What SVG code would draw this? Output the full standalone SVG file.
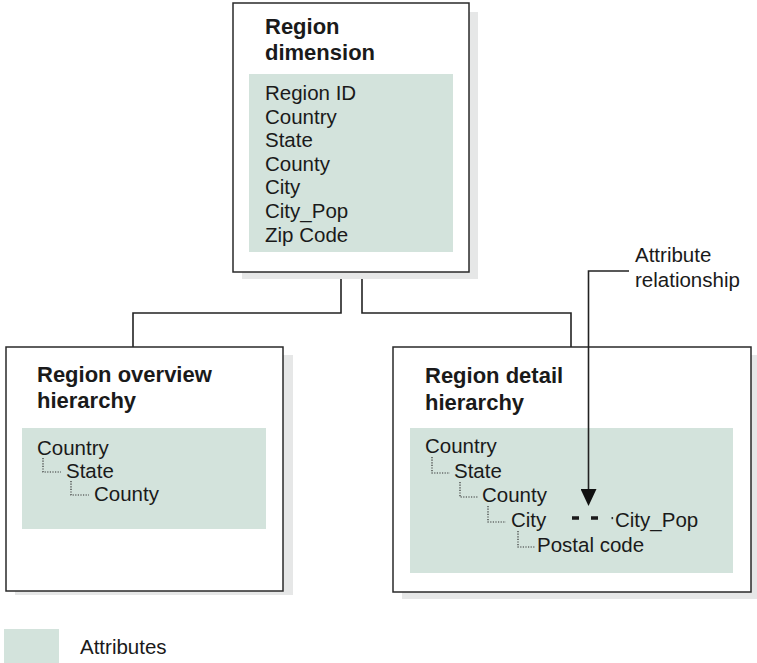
<svg xmlns="http://www.w3.org/2000/svg" width="757" height="663" viewBox="0 0 757 663">
  <defs>
    <style>
      .shadow { fill: #e6e7e7; }
      .box { fill: #ffffff; stroke: #2a2a2a; stroke-width: 1.5; }
      .attr { fill: #d3e3dc; }
      .title { font-family: "Liberation Sans", Arial, sans-serif; font-weight: bold; font-size: 22px; fill: #1a1a1a; }
      .item { font-family: "Liberation Sans", Arial, sans-serif; font-size: 20.5px; fill: #1a1a1a; }
      .wire { fill: none; stroke: #222222; stroke-width: 1.6; }
      .tree { fill: none; stroke: #333333; stroke-width: 1.2; stroke-dasharray: 1.2 1.4; }
      .rel { fill: none; stroke: #1a1a1a; stroke-width: 3.5; }
    </style>
    <marker id="arrowhead" viewBox="0 0 17 16" refX="0" refY="8" markerWidth="17" markerHeight="16" markerUnits="userSpaceOnUse" orient="auto">
      <path d="M0,0 L17,8 L0,16 Z" fill="#111111"/>
    </marker>
  </defs>

  <!-- connectors between the dimension and its hierarchies -->
  <g id="connectors">
    <path class="wire" d="M341,279 V313 H133 V347"/>
    <path class="wire" d="M362,279 V313 H571 V347"/>
  </g>

  <!-- Region dimension -->
  <g id="region-dimension">
    <rect class="shadow" x="242" y="12" width="236" height="267"/>
    <rect class="box" x="233" y="3" width="236" height="269"/>
    <rect class="attr" x="249" y="74" width="204" height="178"/>
    <text class="title" x="265" y="34">Region</text>
    <text class="title" x="265" y="60">dimension</text>
    <text class="item" x="265" y="100">Region ID</text>
    <text class="item" x="265" y="124">Country</text>
    <text class="item" x="265" y="147">State</text>
    <text class="item" x="265" y="171">County</text>
    <text class="item" x="265" y="194">City</text>
    <text class="item" x="265" y="218">City_Pop</text>
    <text class="item" x="265" y="242">Zip Code</text>
  </g>

  <!-- Region overview hierarchy -->
  <g id="region-overview">
    <rect class="shadow" x="15" y="355" width="278" height="240"/>
    <rect class="box" x="6" y="347" width="277" height="244"/>
    <rect class="attr" x="22" y="428" width="244" height="101"/>
    <text class="title" x="37" y="382">Region overview</text>
    <text class="title" x="37" y="408">hierarchy</text>
    <text class="item" x="37" y="455">Country</text>
    <path class="tree" d="M43,458 V472 H61"/>
    <text class="item" x="66" y="478">State</text>
    <path class="tree" d="M71,481 V495 H89"/>
    <text class="item" x="94" y="501">County</text>
  </g>

  <!-- Region detail hierarchy -->
  <g id="region-detail">
    <rect class="shadow" x="402" y="355" width="355" height="244"/>
    <rect class="box" x="393" y="347" width="358" height="245"/>
    <rect class="attr" x="410" y="428" width="323" height="145"/>
    <text class="title" x="425" y="383">Region detail</text>
    <text class="title" x="425" y="410">hierarchy</text>
    <text class="item" x="425" y="453">Country</text>
    <path class="tree" d="M432,457 V473 H450"/>
    <text class="item" x="454" y="478">State</text>
    <path class="tree" d="M460,482 V497 H478"/>
    <text class="item" x="482" y="502">County</text>
    <path class="tree" d="M488,506 V522 H506"/>
    <text class="item" x="511" y="527">City</text>
    <path class="tree" d="M518,531 V547 H535"/>
    <text class="item" x="537" y="552">Postal code</text>
    <path class="rel" d="M572,518 H579 M591,518 H598"/>
    <rect x="611.5" y="517" width="1.6" height="2.2" fill="#333333"/>
    <text class="item" x="615" y="527">City_Pop</text>
  </g>

  <!-- annotation for the attribute relationship, drawn over the box -->
  <g id="annotation">
    <path class="wire" d="M629,271 H588.5 V489" marker-end="url(#arrowhead)"/>
    <text class="item" x="635" y="262">Attribute</text>
    <text class="item" x="635" y="287">relationship</text>
  </g>

  <!-- legend -->
  <g id="legend">
    <rect class="attr" x="4" y="629" width="55" height="34"/>
    <text class="item" x="80" y="654">Attributes</text>
  </g>
</svg>
